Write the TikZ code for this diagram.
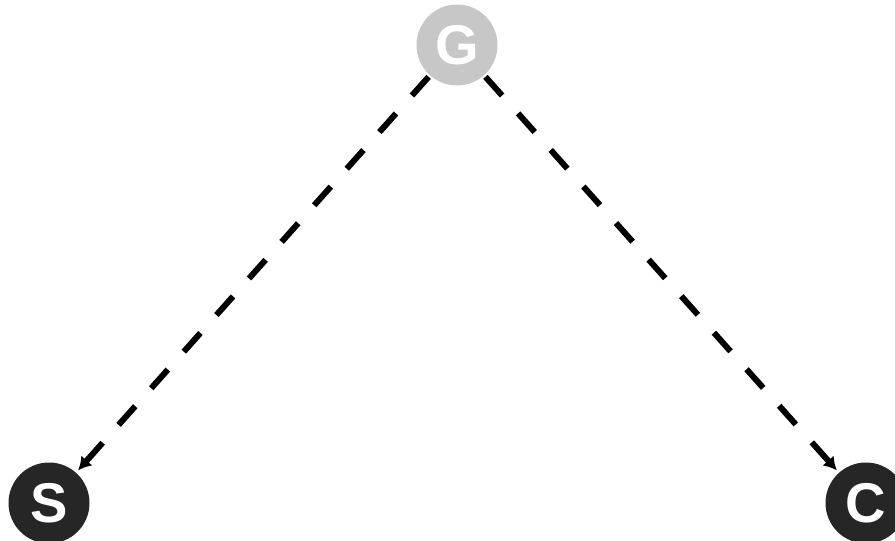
\documentclass[tikz,border=0pt]{standalone}
\usepackage{fontspec}
\setmainfont{Liberation Sans}
\usetikzlibrary{arrows.meta}
\begin{document}
\begin{tikzpicture}[x=1pt,y=-1pt,
  vnode/.style={circle,minimum size=81pt,inner sep=0pt,text=white,
    font=\fontsize{56}{56}\selectfont\bfseries},
  edge/.style={line width=6pt,dash pattern=on 25pt off 24pt,
    -{Latex[length=13pt,width=15pt]},shorten >=3pt,shorten <=2pt}]
  \useasboundingbox (0,0) rectangle (895,541);
  \node[vnode,fill=black!22] (G) at (457,45) {G};
  \node[vnode,fill=black!85] (S) at (49,503) {S};
  \node[vnode,fill=black!85] (C) at (866,503) {C};
  \draw[edge] (G) -- (S);
  \draw[edge] (G) -- (C);
\end{tikzpicture}
\end{document}
